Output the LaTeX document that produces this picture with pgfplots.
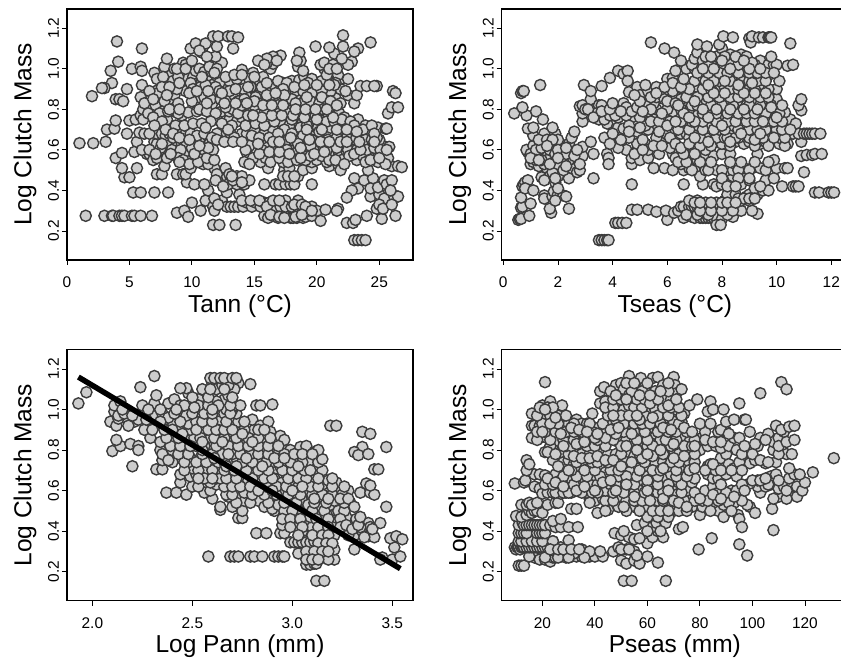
\documentclass[border=0pt]{standalone}
\usepackage{fontspec}
\setmainfont{Liberation Sans}
\usepackage{pgfplots}
\pgfplotsset{compat=1.18}
\definecolor{ptfill}{HTML}{CDCDCD}
\definecolor{ptline}{HTML}{3C3C3C}
\pgfplotsset{panel/.style={
  scale only axis, anchor=south west,
  ymin=0.057, ymax=1.295,
  ytick={0.2,0.4,0.6,0.8,1.0,1.2},
  tick align=outside, major tick length=5bp,
  axis line style={line width=1.3bp,black},
  tick style={line width=0.9bp,black},
  xtick pos=bottom, ytick pos=left,
  /pgf/number format/assume math mode=true,
  tick label style={font=\fontsize{15.5}{17}\selectfont},
  yticklabel style={rotate=90,anchor=south,/pgf/number format/fixed,/pgf/number format/fixed zerofill,/pgf/number format/precision=1,yshift=-0.5bp},
  xticklabel style={yshift=-8bp,/pgf/number format/fixed},
  ylabel={Log Clutch Mass},
  label style={font=\fontsize{24.6}{27}\selectfont},
  ylabel style={at={(axis description cs:0,0.5)},anchor=south,yshift=27bp},
  xlabel style={at={(axis description cs:0.5,0)},anchor=north,yshift=-31bp},
},
pts/.style={only marks,mark=*,mark size=5.6bp,mark options={fill=ptfill,draw=ptline,line width=1.4bp}}
}
\begin{document}
\begin{tikzpicture}
\path[use as bounding box,clip] (0,0) rectangle (841bp,663bp);
% ---------- Tann
\begin{axis}[panel,at={(67bp,403bp)},width=346bp,height=251bp,xmin=0,xmax=27.7,xtick={0,5,10,15,20,25},xlabel={Tann (°C)}]
\addplot[pts] coordinates {
(23.0,.155)(23.3,.155)(23.6,.155)(23.9,.155)(11.7,.23)(12.2,.23)(13.5,.23)(22.4,.24)(22.9,.24)(23.1,.255)
(1.5,.275)(3.0,.275)(3.6,.275)(3.7,.275)(4.2,.275)(4.4,.275)(4.6,.275)(5.2,.275)(5.4,.275)(5.9,.275)(6.8,.275)(8.8,.29)(9.4,.3)(9.7,.27)
(15.8,.275)(16.1,.265)(16.5,.275)(16.9,.265)(17.2,.27)(17.6,.27)(17.9,.265)(18.1,.265)(18.4,.265)(18.6,.27)(18.9,.265)(19.1,.27)(19.6,.275)(20.3,.25)(24.0,.275)(25.2,.26)(26.3,.275)
(10.7,.30)(10.0,.34)(11.1,.35)(11.7,.32)(11.8,.30)(12.4,.35)(12.8,.32)(13.1,.32)(13.4,.32)(13.7,.32)(14.1,.32)(14.4,.34)(14.8,.32)(15.1,.34)(15.5,.32)(15.8,.34)(16.2,.34)(16.7,.32)(17.1,.32)(17.5,.35)(17.5,.32)(18.0,.32)(18.5,.35)(18.5,.32)(18.9,.30)(19.3,.30)(19.6,.32)(20.0,.30)(20.7,.305)(21.7,.31)(21.6,.30)(24.8,.31)(25.6,.33)(25.2,.35)(25.9,.36)(26.4,.37)
(5.3,.39)(5.9,.39)(7.0,.39)(8.1,.39)(11.3,.40)(11.8,.36)(12.8,.39)(13.8,.38)(24.3,.37)(25.0,.38)(25.4,.36)(26.2,.37)(26.5,.37)
(4.6,.465)(5.0,.465)(9.6,.44)(10.2,.43)(11.0,.43)(12.3,.45)(12.8,.47)(12.9,.43)(13.6,.43)(14.2,.43)(14.6,.45)(15.8,.43)(16.7,.43)(17.0,.43)(17.5,.43)(17.9,.43)(18.2,.43)(19.6,.43)(23.0,.46)(23.3,.41)(23.8,.45)(24.5,.46)(24.3,.41)(24.9,.415)(25.4,.45)(25.6,.43)(26.0,.45)(25.9,.40)(22.8,.40)(22.4,.365)
(4.4,.51)(5.6,.51)(7.2,.48)(7.6,.48)(7.8,.52)(8.8,.48)(9.3,.48)(9.5,.48)(9.9,.51)(10.9,.53)(11.8,.51)(12.0,.48)(12.7,.51)(13.0,.48)(13.6,.47)(14.0,.47)(16.1,.51)(17.4,.50)(17.8,.51)(18.5,.47)(18.9,.50)(19.6,.51)(21.0,.52)(21.7,.53)(21.9,.50)(24.1,.50)(26.0,.52)(26.5,.52)(26.8,.515)
(3.9,.56)(4.4,.585)(5.4,.59)(6.4,.58)(6.6,.58)(6.9,.55)(7.6,.58)(8.5,.575)(9.5,.58)(10.0,.55)(10.5,.58)(10.9,.56)(11.3,.53)(14.4,.585)(14.2,.54)(15.5,.54)(16.6,.57)(17.3,.54)(18.0,.57)(18.9,.58)(19.6,.54)(20.0,.55)(20.8,.54)(21.3,.57)(21.8,.58)(22.4,.59)(23.2,.55)(23.7,.57)(24.6,.57)(24.9,.59)(25.3,.57)(25.7,.56)
(1.0,.633)(2.1,.633)(3.1,.64)(5.6,.64)(7.0,.64)(7.2,.63)(8.0,.64)(8.2,.63)(8.8,.63)(9.2,.63)(9.6,.63)(10.2,.64)(10.6,.64)(11.4,.63)(15.0,.64)(16.0,.61)(17.2,.62)(18.1,.63)(18.5,.60)(19.1,.62)(20.0,.60)(20.5,.62)(21.2,.62)(22.1,.62)(22.8,.63)(23.6,.62)(24.2,.63)(24.9,.62)(25.3,.62)(25.8,.615)
(3.2,.70)(3.8,.705)(4.8,.68)(5.8,.685)(6.2,.68)(7.2,.68)(7.6,.68)(7.9,.67)(8.2,.68)(8.8,.68)(9.2,.68)(9.5,.68)(9.9,.68)(10.4,.67)(11.0,.68)(12.0,.68)(12.8,.68)(13.1,.68)(14.0,.68)(14.4,.68)(15.0,.70)(15.8,.68)(16.5,.70)(17.2,.66)(17.7,.65)(18.2,.645)(18.7,.65)(19.3,.68)(19.9,.67)(20.5,.66)(21.0,.68)(22.1,.68)(22.7,.70)(23.5,.67)(24.2,.69)(25.0,.65)
(3.9,.745)(5.0,.745)(5.5,.75)(5.9,.77)(6.1,.75)(7.2,.74)(8.0,.75)(12.0,.75)(13.0,.75)(13.6,.74)(14.0,.76)(14.8,.75)(15.4,.75)(16.2,.74)(17.1,.74)(17.8,.72)(18.4,.745)(18.9,.74)(19.7,.73)(20.5,.745)(21.1,.71)(21.8,.72)(22.4,.73)(23.3,.75)(23.9,.72)(24.9,.71)(25.5,.705)(25.6,.705)
(6.1,.80)(7.1,.82)(7.7,.79)(8.4,.82)(8.6,.79)(9.2,.77)(9.7,.785)(10.4,.79)(10.6,.80)(11.6,.825)(12.4,.79)(13.0,.79)(13.3,.80)(14.3,.80)(14.7,.79)(15.4,.80)(16.2,.80)(16.6,.79)(17.4,.80)(18.0,.81)(18.8,.79)(19.5,.81)(20.2,.79)(20.9,.78)(21.4,.77)(25.7,.78)(26.0,.81)(26.5,.81)
(3.9,.85)(4.2,.85)(4.5,.84)(5.9,.86)(7.5,.86)(8.2,.85)(8.6,.87)(8.9,.83)(10.5,.86)(11.0,.86)(12.9,.86)(13.4,.87)(14.6,.87)(15.8,.85)(17.0,.86)(17.6,.84)(18.5,.86)(19.1,.855)(19.9,.845)(20.6,.85)(21.0,.86)(21.5,.855)(21.9,.83)(22.5,.87)(23.0,.83)(23.2,.87)
(3.6,.93)(3.0,.905)(2.8,.905)(2.0,.865)(4.8,.90)(6.0,.92)(7.9,.945)(9.3,.91)(9.5,.89)(7.1,.89)(7.3,.88)(12.6,.92)(13.3,.91)(13.9,.92)(15.0,.90)(15.3,.87)(16.2,.89)(16.6,.92)(17.0,.89)(17.8,.90)(21.1,.89)(21.9,.90)(23.5,.915)(24.0,.915)(24.8,.915)(24.6,.915)(26.1,.89)(26.3,.88)
(7.0,.98)(7.2,.95)(8.3,.97)(9.6,.96)(10.1,.96)(10.5,.93)(11.3,.95)(12.0,.96)(14.2,.94)(15.7,.96)(17.3,.93)(18.0,.94)(18.6,.945)(19.0,.96)(19.6,.95)(20.4,.94)(21.2,.95)(21.9,.95)(22.5,.95)
(5.2,1.0)(5.9,1.01)(6.0,.99)(3.5,.99)(7.8,1.01)(8.6,1.0)(9.0,.98)(10.3,.99)(10.6,1.0)(11.0,.985)(11.6,.985)(14.0,.995)(14.9,.98)(16.3,1.0)(18.5,1.01)(18.9,.99)(20.6,1.0)(21.3,.985)(21.7,.97)
(4.1,1.035)(9.3,1.03)(9.5,1.02)(11.5,1.03)(12.1,1.03)(12.4,1.03)(16.5,1.025)(18.7,1.04)(20.3,1.02)(20.6,1.03)(21.3,1.02)(22.8,1.035)(22.5,1.02)(16.0,1.03)
(10.8,1.08)(18.6,1.08)(21.4,1.075)(17.1,1.065)(16.5,1.06)(16.0,1.05)(15.3,1.04)(8.0,1.05)(11.9,1.06)
(10.9,1.11)(19.9,1.11)(22.1,1.11)(21.0,1.105)(12.0,1.11)(13.3,1.10)(6.0,1.10)(9.9,1.10)(23.3,1.10)(23.0,1.085)
(4.0,1.135)(24.3,1.13)(10.3,1.125)(11.1,1.125)(11.7,1.16)(12.1,1.16)(12.9,1.16)(13.2,1.16)(13.7,1.155)(22.1,1.165)
(7.7,.96)(8.5,.94)(8.9,.96)(9.9,.93)(10.8,.94)(11.6,.92)(12.2,.93)(13.0,.94)(13.6,.95)(14.6,.95)(15.0,.96)(16.9,.94)(17.6,.93)(19.3,.93)(20.8,.97)(21.5,.93)
(6.6,.89)(7.6,.91)(8.3,.90)(8.8,.90)(10.1,.90)(10.7,.91)(11.1,.92)(11.9,.91)(12.2,.89)(13.0,.89)(14.1,.90)(14.7,.91)(15.6,.91)(17.3,.90)(18.3,.89)(18.9,.89)(19.6,.88)(20.4,.89)(21.4,.92)(22.3,.89)
(6.2,.83)(6.9,.85)(7.8,.84)(10.0,.84)(11.5,.85)(12.3,.85)(13.7,.84)(14.2,.85)(15.1,.86)(15.3,.83)(16.4,.85)(16.9,.83)(18.0,.85)(18.9,.83)(19.5,.84)(20.2,.83)(20.9,.83)
(6.5,.78)(7.4,.78)(8.1,.79)(8.9,.78)(11.2,.79)(11.9,.78)(12.7,.81)(13.7,.78)(14.0,.82)(15.0,.82)(15.8,.78)(16.9,.82)(17.0,.78)(17.7,.78)(18.4,.78)(19.2,.78)(19.9,.77)(20.5,.80)(21.0,.81)(21.8,.78)(22.2,.76)
(6.9,.76)(7.6,.74)(11.5,.74)(12.4,.73)(13.2,.72)(14.3,.72)(15.1,.73)(15.8,.72)(16.6,.74)(17.4,.70)(18.0,.75)(18.7,.71)(19.2,.72)(20.1,.71)(20.8,.74)(21.4,.74)(22.0,.75)(22.7,.74)(23.0,.72)(23.7,.70)(24.4,.72)
(6.6,.68)(8.5,.66)(11.6,.66)(13.4,.66)(14.8,.67)(15.4,.66)(16.2,.66)(16.9,.68)(18.0,.68)(18.9,.67)(19.6,.65)(20.2,.69)(20.9,.65)(21.6,.66)(22.4,.66)(23.1,.65)(23.9,.65)(24.4,.65)(24.8,.66)
(6.0,.60)(6.6,.60)(7.5,.61)(8.4,.60)(9.1,.60)(10.0,.61)(10.9,.61)(11.0,.60)(14.6,.62)(15.6,.60)(16.7,.62)(17.6,.60)(18.5,.63)(19.5,.62)(20.8,.60)(21.6,.61)(22.5,.60)(23.2,.60)(24.0,.60)(24.6,.61)(25.1,.60)
(7.2,.56)(8.0,.56)(8.9,.56)(9.3,.55)(9.8,.53)(10.5,.54)(11.2,.56)(14.9,.56)(15.9,.56)(16.3,.54)(17.0,.56)(17.7,.54)(18.4,.55)(19.1,.55)(19.5,.57)(20.4,.57)(21.0,.55)(22.0,.55)(22.6,.57)(23.9,.54)(24.9,.54)(25.5,.53)
(11.9,.45)(12.5,.42)(13.3,.45)(13.2,.47)(14.0,.44)(17.3,.47)(17.7,.47)(18.2,.47)
(12.1,.33)(14.0,.35)(14.7,.35)(15.4,.35)(16.0,.32)(16.5,.35)(17.0,.35)(18.2,.33)(18.8,.33)(19.1,.32)(19.6,.30)(25.0,.33)(25.3,.31)(26.0,.33)
(16.3,.28)(17.0,.27)(17.4,.265)(18.3,.27)(18.8,.28)
(8.8,1.0)(9.5,1.0)(10.0,1.04)(10.6,1.09)(11.2,1.06)(11.4,1.01)(12.0,1.0)(15.8,1.02)(16.8,1.04)(18.4,1.04)(21.0,1.0)(21.6,1.0)(22.0,1.05)
(11.7,.60)(11.3,.61)(14.3,.60)(12.0,.65)(12.6,.64)(13.3,.64)(14.0,.64)(11.8,.55)(14.6,.53)
(7.0,.72)(7.9,.70)(8.7,.72)(9.4,.72)(10.1,.73)(10.8,.73)(11.1,.71)(12.9,.70)(14.5,.77)(15.6,.76)(16.4,.77)(17.2,.77)(18.1,.77)(19.0,.76)(20.0,.75)(21.3,.76)(19.2,.70)(20.4,.70)(21.6,.70)(22.4,.70)(23.2,.69)(24.6,.68)
(8.2,.91)(9.0,.93)(9.8,.88)(10.4,.89)(11.3,.89)(12.7,.96)(13.4,.97)(14.5,.91)(16.0,.93)(17.4,.87)(18.2,.91)(19.0,.92)(20.0,.92)(21.0,.92)(15.0,.84)(16.0,.87)(16.7,.88)(18.3,.83)(19.2,.86)(20.4,.86)(21.1,.84)
(7.1,.58)(8.3,.58)(9.0,.54)(10.2,.58)(15.4,.58)(16.2,.59)(17.0,.59)(17.8,.58)(18.7,.56)(19.8,.58)(20.6,.59)(21.5,.55)(22.2,.53)(23.0,.58)(23.5,.60)(24.3,.55)(25.0,.56)(25.6,.60)
(7.6,.63)(8.5,.68)(9.0,.66)(9.8,.65)(10.6,.62)(15.3,.63)(16.5,.64)(17.0,.64)(17.9,.66)(18.7,.61)(19.4,.65)(20.3,.64)(21.0,.64)(21.9,.64)(22.4,.64)(23.4,.64)(24.6,.64)
(8.0,.87)(8.2,.80)(9.0,.80)(11.2,.83)(12.6,.83)(13.5,.83)(14.4,.83)(14.9,.77)(15.7,.82)(16.4,.82)(17.3,.82)(18.3,.80)(19.1,.80)(19.9,.80)(20.8,.80)(21.6,.82)
(12.4,.88)(13.5,.90)(14.0,.97)(10.8,.96)(11.8,.98)
};
\end{axis}
% ---------- Tseas
\begin{axis}[panel,at={(501.7bp,403bp)},width=346.3bp,height=251bp,xmin=-0.058,xmax=12.61,xtick={0,2,4,6,8,10,12},xlabel={Tseas (°C)}]
\addplot[pts] coordinates {
(3.5,.155)(3.6,.155)(3.7,.155)(3.8,.155)(3.85,.155)(4.1,.24)(4.2,.24)(4.35,.24)(4.5,.24)
(.55,.255)(.6,.26)(.65,.26)(.95,.275)(6.0,.255)(6.6,.265)(6.9,.27)(7.0,.265)(7.2,.265)(7.3,.265)(7.4,.265)(7.5,.265)(7.6,.265)(7.7,.265)(7.8,.265)(8.0,.26)(7.8,.23)(7.95,.23)(8.4,.27)(9.3,.285)
(4.7,.305)(4.9,.305)(5.3,.305)(5.6,.295)(5.95,.30)(6.25,.29)(6.4,.30)(.65,.315)(.7,.32)(1.75,.29)(1.7,.31)(2.4,.31)(1.0,.335)(8.7,.30)(9.1,.30)
(6.5,.32)(6.6,.32)(6.8,.32)(6.9,.32)(7.0,.32)(7.1,.32)(7.2,.32)(7.3,.32)(7.4,.32)(7.5,.32)(7.6,.32)(7.7,.32)(7.8,.32)(7.9,.32)(8.0,.32)(8.1,.32)(8.2,.32)(8.3,.32)(8.4,.32)
(6.8,.35)(7.1,.35)(7.4,.34)(7.8,.34)(8.1,.35)(8.4,.35)(8.7,.35)(9.0,.35)
(.65,.365)(1.5,.375)(1.5,.36)(1.8,.37)(1.85,.395)(2.0,.38)(2.2,.375)(2.3,.37)(1.9,.35)(8.2,.38)(8.5,.38)(8.9,.37)(9.0,.38)(9.3,.38)(11.4,.39)(11.55,.39)(11.9,.39)(12.0,.39)(12.1,.39)
(.7,.42)(.75,.43)(.8,.44)(.9,.45)(.8,.41)(1.1,.40)(1.4,.465)(1.9,.44)(2.0,.41)(2.4,.46)(3.3,.46)(4.7,.43)(6.6,.43)(7.3,.43)(7.7,.43)(7.8,.42)(8.0,.43)(8.2,.46)(8.4,.47)(8.7,.43)(9.0,.45)(9.2,.41)(9.5,.40)(9.7,.40)(9.6,.45)(9.9,.46)(10.2,.42)(10.6,.42)(10.7,.42)(10.8,.42)
(1.0,.53)(1.1,.54)(1.3,.52)(1.6,.51)(1.9,.5)(2.0,.47)(1.9,.52)(2.5,.51)(2.7,.49)(2.8,.50)(5.5,.51)(5.9,.51)(6.4,.52)(6.6,.50)(6.8,.51)(7.0,.50)(7.2,.47)(7.4,.50)(7.8,.50)(8.2,.50)(8.4,.50)(8.8,.51)(9.1,.51)(9.4,.51)(9.7,.52)(10.0,.51)(10.3,.51)(10.4,.51)(11.0,.49)
(.9,.59)(1.2,.58)(1.4,.57)(1.5,.59)(1.8,.55)(2.1,.56)(2.4,.55)(2.5,.59)(2.9,.57)(3.3,.58)(3.8,.58)(3.85,.56)(3.85,.53)(4.7,.53)(4.7,.56)(5.0,.55)(5.3,.56)(5.7,.58)(6.2,.58)(6.3,.56)(6.5,.53)(6.8,.56)(7.1,.55)(7.4,.58)(7.7,.57)(8.0,.58)(8.3,.58)(8.5,.53)(9.3,.58)(9.9,.55)(10.9,.57)(11.1,.575)(11.3,.575)(11.4,.58)(11.65,.58)
(.85,.6)(1.1,.62)(1.3,.60)(1.5,.63)(1.8,.62)(2.1,.60)(2.2,.62)(2.4,.63)(2.9,.615)(3.2,.64)(4.3,.63)(4.5,.60)(4.9,.60)(5.2,.63)(5.3,.60)(6.1,.61)(6.6,.60)(7.0,.63)(7.4,.60)(7.8,.64)(8.0,.63)(8.5,.64)(8.8,.63)(9.0,.64)(9.4,.63)(9.6,.64)(9.8,.64)(10.1,.63)(10.4,.63)(10.9,.64)
(1.1,.67)(1.5,.68)(1.9,.68)(2.0,.65)(2.5,.66)(2.6,.69)(3.7,.66)(4.2,.67)(4.5,.665)(4.9,.69)(5.3,.70)(5.8,.65)(6.0,.675)(6.5,.68)(6.8,.68)(7.0,.70)(7.4,.66)(7.8,.66)(8.1,.66)(8.4,.68)(8.6,.66)(8.9,.68)(9.1,.67)(9.3,.66)(9.6,.68)(9.8,.68)(10.0,.68)(10.2,.68)(10.4,.68)(10.6,.68)(10.8,.68)(11.0,.68)(11.1,.68)(11.2,.68)(11.3,.68)(11.4,.68)(11.6,.68)
(.9,.705)(1.1,.71)(1.8,.71)(3.8,.73)(4.2,.71)(4.4,.705)(5.2,.72)(6.6,.73)(7.1,.72)(7.5,.71)(7.9,.70)(8.4,.72)(8.7,.75)(8.8,.72)(9.1,.72)(9.4,.71)(9.7,.73)(10.0,.74)(10.3,.75)(10.5,.75)(10.7,.73)
(.4,.78)(.85,.77)(1.2,.79)(1.45,.75)(2.9,.74)(2.9,.78)(3.5,.75)(3.7,.75)(4.2,.76)(4.7,.76)(5.0,.76)(5.3,.78)(5.5,.77)(6.0,.765)(6.2,.79)(7.0,.80)(7.1,.77)(7.6,.78)(8.0,.77)(8.4,.78)(8.7,.77)(9.0,.76)(9.4,.78)(9.8,.79)(10.0,.79)(10.3,.785)(10.9,.795)
(.7,.81)(2.8,.815)(2.9,.82)(3.2,.85)(3.5,.82)(3.6,.82)(4.1,.80)(4.4,.83)(4.5,.81)(5.3,.79)(6.0,.80)(6.3,.86)(6.5,.85)(6.9,.86)(6.8,.80)(7.4,.83)(7.9,.84)(8.2,.84)(8.6,.82)(9.2,.85)(9.6,.84)(9.9,.84)(10.0,.85)(10.8,.82)(10.9,.85)
(.65,.88)(.7,.89)(.75,.89)(1.35,.92)(2.95,.92)(3.2,.89)(3.6,.915)(4.6,.885)(4.9,.91)(5.0,.87)(5.3,.89)(5.6,.91)(5.7,.875)(5.9,.87)(6.2,.89)(7.1,.91)(7.4,.92)(7.7,.90)(7.85,.90)(8.1,.91)(8.4,.885)(8.8,.90)(9.3,.91)(9.5,.91)(10.0,.90)
(3.9,.955)(4.2,.99)(4.4,.975)(4.55,.99)(4.55,.94)(6.0,.95)(6.2,.955)(7.0,.94)(7.3,.96)(7.6,.94)(7.9,.94)(8.1,.96)(8.4,.95)(8.8,.97)(9.2,.96)(9.5,.98)(9.7,.97)(10.1,.94)(6.3,.99)(6.7,1.0)(7.0,1.0)(6.9,1.02)(7.3,1.03)(7.7,1.02)(8.1,1.01)(8.5,1.0)(8.8,1.0)(9.0,1.02)(9.4,1.04)(9.7,1.02)(9.9,1.02)(10.0,1.02)(10.4,1.015)(10.6,1.02)
(5.4,1.13)(5.9,1.10)(6.25,1.08)(6.5,1.04)(7.0,1.05)(7.1,1.08)(7.1,1.12)(7.3,1.04)(7.45,1.11)(7.7,1.05)(7.8,1.06)(8.0,1.10)(7.9,1.12)(8.3,1.07)(8.7,1.07)(8.4,1.04)(9.8,1.06)(8.05,1.16)(8.4,1.155)(9.0,1.15)(9.05,1.13)(9.1,1.16)(9.35,1.155)(9.5,1.155)(9.7,1.155)(9.75,1.155)(9.8,1.155)(10.5,1.125)
(1.0,.58)(1.2,.6)(1.4,.61)(1.6,.55)(1.7,.6)(1.9,.58)(2.0,.6)(2.2,.54)(2.3,.58)(2.6,.57)(1.2,.55)(1.5,.53)(1.7,.47)(1.8,.49)(2.0,.53)(1.5,.45)(1.3,.65)(1.6,.65)(1.8,.65)(1.9,.46)(2.2,.5)
(3.4,.78)(3.9,.77)(4.1,.77)(4.5,.77)(3.0,.8)(4.6,.72)(4.9,.63)(5.1,.65)(5.6,.66)(4.6,.66)(4.2,.61)(5.6,.80)(5.5,.83)(5.2,.82)(5.4,.80)(5.6,.86)(5.9,.85)(6.0,.84)(6.3,.83)(6.5,.80)(6.1,.74)(6.3,.70)(6.7,.68)
(7.2,.62)(7.6,.62)(8.3,.62)(9.2,.62)(9.7,.62)(10.3,.62)(6.8,.66)(7.2,.66)(8.2,.66)(8.5,.66)(9.0,.66)(9.5,.66)(10.1,.66)(10.3,.66)
(6.4,.70)(6.8,.70)(7.3,.70)(7.7,.70)(8.1,.70)(8.6,.70)(9.0,.70)(9.3,.70)(9.6,.70)(10.0,.70)(10.2,.70)(10.5,.70)
(6.5,.74)(6.9,.74)(7.3,.74)(7.8,.74)(8.2,.74)(8.5,.74)(8.9,.74)(9.2,.74)(9.6,.74)(9.9,.74)(10.2,.74)
(6.6,.78)(7.3,.78)(7.8,.78)(8.2,.78)(8.6,.78)(8.9,.78)(9.2,.78)(9.6,.78)(10.1,.78)
(6.4,.82)(6.9,.82)(7.1,.82)(7.6,.82)(8.0,.82)(8.4,.82)(8.9,.82)(9.0,.82)(9.4,.82)(9.8,.82)(10.2,.82)
(6.7,.86)(7.1,.86)(7.5,.86)(7.9,.86)(8.3,.86)(8.6,.86)(9.0,.86)(9.4,.86)(9.7,.86)
(6.8,.90)(7.3,.90)(7.6,.90)(8.3,.90)(8.6,.90)(9.0,.90)(9.2,.90)(9.7,.90)
(7.4,.94)(7.7,.94)(8.3,.94)(8.7,.94)(9.0,.94)(9.3,.94)(9.6,.94)
(7.1,.98)(7.5,.98)(7.9,.98)(8.2,.98)(8.6,.98)(9.0,.98)(9.3,.98)(9.6,.98)(9.9,.98)
(7.5,1.02)(8.3,1.02)(8.6,1.02)(9.2,1.02)(7.4,1.06)(7.6,1.06)(8.1,1.06)(8.5,1.06)(8.9,1.06)(9.1,1.03)
(6.2,.5)(6.9,.5)(7.5,.5)(8.0,.5)(8.6,.5)(9.0,.5)(9.6,.5)(6.4,.54)(6.7,.54)(7.2,.54)(7.6,.54)(8.3,.54)(8.7,.54)(9.2,.54)(9.7,.54)(6.6,.58)(7.0,.58)
(8.0,.46)(8.6,.46)(9.0,.46)(8.2,.42)(8.5,.42)(9.4,.42)(8.6,.36)(8.8,.36)(9.0,.36)(9.2,.36)
(6.7,.28)(7.1,.28)(7.5,.28)(8.2,.28)(7.2,.30)(7.6,.30)(8.0,.30)(8.4,.30)(7.0,.34)(7.2,.34)(7.6,.34)(8.0,.34)(8.2,.34)(8.5,.34)
(3.1,.8)(3.3,.76)(3.6,.79)(3.9,.8)(4.0,.83)(4.3,.79)(4.7,.79)(4.9,.81)(5.1,.79)(5.4,.74)(5.7,.74)(5.0,.71)(4.6,.69)(4.3,.65)(4.0,.68)(3.9,.63)(4.8,.58)(5.1,.6)(5.5,.62)(5.7,.69)(6.0,.72)(5.8,.78)(5.8,.62)
(5.0,.84)(4.8,.87)(5.4,.86)(5.2,.92)(5.6,.88)(5.9,.91)(6.2,.93)(6.5,.91)(6.6,.95)(6.1,.66)(6.3,.63)(6.5,.61)(6.8,.63)(6.3,.74)
(7.0,.66)(7.5,.64)(8.3,.64)(9.2,.65)(9.9,.66)(7.0,.74)(7.5,.76)(8.0,.72)(8.7,.68)(9.4,.68)(9.5,.74)(10.0,.76)(6.8,.76)(7.3,.8)(7.8,.8)(8.3,.8)(8.8,.8)(9.3,.8)(9.8,.81)(7.0,.84)(7.7,.88)(8.1,.88)(8.8,.88)(9.2,.88)(9.6,.88)(7.5,.92)(8.1,.94)(8.6,.92)(9.1,.93)(7.3,1.0)(7.7,1.0)(8.3,1.0)(9.0,1.0)(9.4,1.0)(8.0,1.04)(8.8,1.04)
(1.0,.56)(1.4,.55)(1.7,.53)(2.3,.52)(2.3,.61)(1.3,.55)(1.6,.62)(2.7,.6)(2.8,.53)(2.0,.56)
};
\end{axis}
% ---------- Log Pann
\begin{axis}[panel,at={(67bp,62.3bp)},width=346bp,height=251bp,xmin=1.873,xmax=3.6035,xtick={2,2.5,3,3.5},xticklabel style={/pgf/number format/fixed zerofill,/pgf/number format/precision=1},xlabel={Log Pann (mm)}]
\addplot[pts] coordinates {
(3.12,.155)(3.16,.155)(3.07,.235)(3.09,.235)(3.11,.24)(3.12,.24)
(2.58,.275)(2.69,.275)(2.71,.275)(2.73,.275)(2.79,.275)(2.81,.275)(2.85,.275)(2.91,.275)(2.93,.275)(2.95,.275)(2.96,.275)(3.45,.27)(3.44,.26)(3.5,.26)(3.54,.275)
(3.03,.29)(3.08,.30)(3.10,.28)(3.13,.30)(3.16,.27)(3.2,.30)(3.21,.26)(3.18,.26)
(2.99,.345)(3.01,.345)(3.03,.345)(3.05,.345)(3.07,.345)(3.09,.345)(3.11,.35)(3.15,.33)(3.19,.32)(3.21,.31)(3.31,.31)(3.51,.32)
(2.82,.39)(2.87,.39)(2.94,.39)(2.96,.39)(3.05,.40)(3.12,.40)(3.21,.38)(3.31,.38)(3.35,.40)(3.38,.375)(3.41,.37)(3.49,.365)(3.52,.375)(3.55,.36)
(2.73,.465)(2.75,.465)(2.95,.43)(3.03,.42)(3.07,.45)(3.1,.42)(3.16,.44)(3.2,.42)(3.25,.42)(3.29,.45)(3.38,.44)(3.39,.42)(3.44,.44)(3.40,.41)
(2.64,.505)(2.75,.50)(2.91,.50)(2.97,.48)(3.0,.475)(3.05,.50)(3.09,.47)(3.14,.48)(3.19,.48)(3.22,.50)(3.27,.47)(3.32,.46)
(2.60,.56)(2.68,.57)(2.64,.52)(2.70,.52)(2.76,.55)(2.83,.55)(2.86,.52)(2.90,.51)(2.93,.53)(2.99,.55)(3.05,.55)(3.08,.53)(3.14,.52)(3.19,.53)(3.21,.55)(3.23,.50)(3.29,.54)(3.47,.52)
(2.37,.59)(2.42,.59)(2.44,.64)(2.47,.58)(2.50,.62)(2.56,.59)(2.59,.60)(2.62,.63)(2.67,.58)(2.72,.58)(2.76,.59)(2.80,.62)(2.84,.60)(2.89,.57)(2.95,.58)(3.01,.59)(3.07,.60)(3.13,.59)(3.17,.62)(3.22,.60)(3.28,.60)(3.34,.59)(3.39,.59)(3.41,.58)
(2.44,.68)(2.49,.67)(2.52,.68)(2.59,.64)(2.62,.66)(2.70,.64)(2.75,.66)(2.78,.65)(2.83,.65)(2.88,.63)(2.91,.66)(2.95,.64)(3.00,.65)(3.05,.68)(3.10,.65)(3.15,.63)(3.18,.65)(3.22,.64)(3.37,.635)(3.39,.625)
(2.20,.72)(2.32,.705)(2.35,.705)(2.50,.71)(2.57,.70)(2.63,.71)(2.68,.68)(2.74,.70)(2.80,.68)(2.85,.70)(2.92,.71)(2.97,.68)(3.03,.69)(3.12,.71)(3.13,.70)(3.41,.705)(3.43,.705)(3.15,.70)
(2.35,.75)(2.44,.76)(2.49,.76)(2.48,.74)(2.54,.76)(2.60,.74)(2.68,.75)(2.72,.76)(2.77,.74)(2.84,.75)(2.90,.74)(2.94,.72)(2.97,.73)(3.02,.74)(3.08,.74)(3.13,.76)(3.13,.74)(3.15,.755)
(2.10,.795)(2.14,.82)(2.19,.83)(2.23,.82)(2.23,.80)(2.34,.80)(2.40,.80)(2.45,.80)(2.52,.82)(2.59,.83)(2.65,.80)(2.70,.79)(2.76,.80)(2.81,.80)(2.85,.79)(2.90,.78)(2.95,.83)(2.99,.80)(3.04,.815)(3.07,.82)(3.11,.79)(3.13,.80)(3.47,.815)(3.35,.815)(3.31,.79)(3.33,.775)(3.38,.78)
(2.12,.85)(2.29,.86)(2.34,.84)(2.40,.85)(2.47,.85)(2.51,.86)(2.58,.86)(2.63,.85)(2.69,.87)(2.75,.85)(2.81,.85)(2.86,.86)(2.91,.85)(2.94,.87)(2.96,.85)
(2.41,.92)(2.46,.90)(2.49,.90)(2.55,.89)(2.60,.90)(2.64,.92)(2.68,.89)(2.72,.90)(2.74,.87)(2.78,.88)(2.81,.90)(2.85,.88)(2.87,.91)(2.89,.89)(3.19,.92)(3.22,.92)(3.35,.89)(3.39,.88)
(2.09,.94)(2.12,.92)(2.13,.955)(2.18,.94)(2.21,.94)(2.26,.90)(2.31,.92)(2.36,.95)(2.40,.94)(2.48,.93)(2.52,.94)(2.58,.95)(2.64,.95)(2.70,.94)(2.73,.94)(2.80,.95)(2.84,.92)(2.88,.94)
(2.11,.99)(2.13,.97)(2.16,.98)(2.23,.95)(2.30,.97)(2.35,.98)(2.38,.96)(2.44,.98)(2.47,.97)(2.53,.99)(2.58,.97)(2.62,.99)(2.66,.98)(2.72,.98)
(2.25,1.02)(2.11,1.02)(2.14,1.04)(2.31,1.03)(2.38,1.03)(2.41,1.05)(2.44,1.02)(2.49,1.02)(2.56,1.03)(2.60,1.02)(2.67,1.0)(2.70,1.0)(2.72,1.02)(2.74,1.02)(2.82,1.02)(2.84,1.02)(2.90,1.025)
(1.97,1.085)(1.93,1.03)(2.32,1.07)(2.48,1.08)(2.60,1.08)(2.66,1.05)(2.62,1.04)(2.53,1.05)(2.68,1.07)
(2.47,1.105)(2.44,1.105)(2.24,1.11)(2.55,1.10)(2.60,1.13)(2.62,1.10)(2.65,1.12)(2.73,1.13)(2.71,1.10)(2.68,1.12)
(2.31,1.165)(2.59,1.155)(2.61,1.155)(2.64,1.155)(2.66,1.155)(2.70,1.155)(2.72,1.155)(2.79,1.125)
(2.96,.5)(3.0,.5)(3.1,.5)(3.16,.5)(3.26,.5)(2.72,.54)(2.79,.54)(2.88,.54)(2.96,.54)(3.02,.54)(3.11,.54)(3.17,.54)(3.26,.54)
(2.7,.58)(2.8,.58)(2.86,.58)(2.92,.58)(2.98,.58)(3.04,.58)(3.1,.58)(3.15,.58)(3.2,.58)(3.25,.58)
(2.53,.62)(2.66,.62)(2.7,.62)(2.74,.62)(2.87,.62)(2.92,.62)(2.97,.62)(3.03,.62)(3.09,.62)(3.13,.62)(3.2,.62)(3.26,.62)
(2.56,.66)(2.64,.66)(2.67,.66)(2.72,.66)(2.8,.66)(2.86,.66)(2.9,.66)(2.98,.66)(3.03,.66)(3.07,.66)(3.13,.66)(3.2,.66)
(2.46,.70)(2.53,.70)(2.6,.70)(2.66,.70)(2.71,.70)(2.77,.70)(2.83,.70)(2.88,.70)(2.95,.70)(3.0,.70)(3.06,.70)(3.09,.70)
(2.4,.74)(2.46,.74)(2.52,.74)(2.57,.74)(2.63,.74)(2.66,.74)(2.75,.74)(2.8,.74)(2.87,.74)(2.93,.74)(2.99,.74)(3.05,.74)
(2.43,.78)(2.48,.78)(2.55,.78)(2.6,.78)(2.65,.78)(2.7,.78)(2.74,.78)(2.79,.78)(2.83,.78)(2.88,.78)(2.93,.78)(2.96,.78)(3.01,.78)(3.05,.78)(3.1,.78)
(2.39,.82)(2.44,.82)(2.49,.82)(2.56,.82)(2.62,.82)(2.68,.82)(2.73,.82)(2.78,.82)(2.83,.82)(2.88,.82)(2.93,.82)
(2.37,.86)(2.43,.86)(2.54,.86)(2.61,.86)(2.66,.86)(2.72,.86)(2.78,.86)(2.83,.86)(2.89,.86)
(2.36,.9)(2.43,.9)(2.52,.9)(2.58,.9)(2.62,.9)(2.66,.9)(2.7,.9)(2.76,.9)(2.83,.9)
(2.34,.94)(2.44,.94)(2.55,.94)(2.6,.94)(2.67,.94)(2.76,.94)(2.41,.98)(2.5,.98)(2.56,.98)(2.6,.98)(2.69,.98)
(2.46,1.02)(2.53,1.02)(2.58,1.02)(2.63,1.02)(2.69,1.02)(2.5,1.06)(2.58,1.06)(2.7,1.06)(2.59,1.1)(2.66,1.1)
(2.95,.46)(2.99,.46)(3.04,.46)(3.12,.46)(3.18,.46)(3.24,.46)(2.99,.42)(3.05,.42)(3.13,.42)(3.18,.42)(3.24,.42)(3.34,.42)
(3.03,.38)(3.1,.38)(3.15,.38)(3.18,.38)(3.28,.38)(3.13,.34)(3.17,.34)(3.2,.34)(3.07,.3)(3.11,.3)(3.15,.3)(3.18,.3)(3.07,.26)(3.1,.26)(3.13,.26)
(2.55,.8)(2.61,.76)(2.68,.78)(2.77,.76)(2.85,.72)(2.91,.76)(2.96,.76)(3.03,.72)(2.67,.72)(2.72,.72)(2.79,.62)(2.83,.6)(2.9,.6)(3.0,.6)(3.05,.62)(3.11,.56)(3.18,.56)(3.24,.56)(3.28,.56)(3.31,.52)(3.27,.43)(3.3,.41)(3.36,.37)(3.33,.43)(3.34,.47)(2.45,.88)(2.55,.84)(2.65,.84)(2.75,.88)(2.8,.84)(2.86,.9)(2.4,.9)(2.3,.9)(2.27,.95)(2.28,1.0)(2.34,1.0)(2.42,1.0)(2.51,1.01)(2.6,1.0)(2.15,1.0)(2.2,.97)(2.18,.92)(2.35,.78)(2.38,.75)(2.53,.66)(2.6,.66)
};
\end{axis}
\begin{axis}[scale only axis,anchor=south west,at={(67bp,62.3bp)},width=346bp,height=251bp,xmin=1.873,xmax=3.6035,ymin=0.057,ymax=1.295,hide axis]
\addplot[black,line width=5.5bp,no marks] coordinates {(1.93,1.16)(3.54,.215)};
\end{axis}
% ---------- Pseas
\begin{axis}[panel,at={(501.7bp,62.3bp)},width=346.3bp,height=251bp,xmin=4.5,xmax=136.4,xtick={20,40,60,80,100,120},xlabel={Pseas (mm)}]
\addplot[pts] coordinates {
(51,.155)(54,.155)(67,.155)(11,.23)(12,.23)(13,.23)
(17,.27)(19,.26)(21,.26)(23,.25)(24,.27)(25,.27)(27,.275)(29,.27)(31,.275)(33,.275)(35,.275)(38,.275)(40,.275)(43,.275)(50,.255)(52,.24)(55,.255)(57,.24)(60,.275)(64,.245)(15,.275)
(9.5,.32)(10,.31)(10.5,.32)(11,.32)(11.5,.31)(12,.32)(12.5,.32)(13,.32)(14,.32)(15,.32)(16,.32)(17,.32)(18,.32)(19,.32)(20,.32)(21,.32)(22,.32)(24,.35)(25,.30)(27,.32)(29,.28)(30,.32)(32,.29)(35,.31)(38,.30)(42,.30)(47,.30)(49,.32)(52,.31)(55,.30)(56,.28)(60,.34)(79.5,.31)(84.5,.365)(95,.335)(98,.28)
(11,.35)(12,.35)(14,.35)(16,.35)(18,.35)(20,.35)(24,.35)(30,.355)
(11,.39)(12,.39)(13,.39)(14,.39)(18,.39)(19,.39)(20,.39)(21,.39)(47.5,.39)(50,.38)(53,.37)(55,.36)(57,.365)(62,.37)(64,.40)(66,.37)(72,.41)(73.5,.42)(108,.405)
(10.5,.47)(11,.43)(12.5,.44)(13,.43)(14,.43)(15,.43)(16,.43)(17,.43)(18,.43)(19,.43)(20,.43)(21,.43)(23,.43)(25,.42)(27,.42)(30,.42)(33.5,.42)(24,.45)(27,.46)(56,.43)(59,.44)(62,.42)(63.5,.44)(66.5,.45)(67,.44)
(10,.475)(12,.47)(14,.48)(15,.50)(16,.49)(17,.50)(18,.50)(20,.49)(22,.53)(25,.54)(31,.51)(33,.51)(41,.49)(45,.505)(49,.52)(55,.52)(58,.50)(60,.52)(63,.52)(66,.52)(70,.50)(73,.52)(77,.52)(80,.48)(81,.52)(87,.50)(89,.47)(93,.54)(94.5,.48)(95,.46)(96,.42)(99,.52)(101,.49)(107.5,.51)
(12,.53)(14,.53)(15,.54)(16,.53)(18,.54)(26,.54)(38,.56)(40,.55)(43,.56)(44,.55)(49,.57)(53,.59)(57,.58)(60,.57)(62,.56)(64,.55)(68,.58)(71,.58)(76,.55)(81,.55)(85,.54)(89,.53)(91,.54)(98,.53)(96,.55)(110,.57)(108,.56)(113,.56)(117,.57)
(9.5,.635)(13,.64)(17,.62)(19,.61)(20,.585)(26,.60)(27,.585)(29,.59)(31,.59)(34,.62)(37,.59)(44,.60)(46,.63)(50,.60)(53,.62)(57,.62)(60,.61)(63,.60)(66,.62)(70,.63)(75,.60)(82,.60)(85,.62)(92,.60)(94,.60)(103,.59)(102,.62)(105,.62)(107,.63)(110,.61)(112,.62)(115,.62)(117,.62)(119,.60)(120,.64)
(13.5,.65)(17,.68)(19,.68)(21,.675)(23,.66)(25,.68)(27,.65)(29,.62)(31,.66)(34,.63)(36,.66)(39,.65)(43,.69)(45,.68)(47,.66)(50,.68)(54,.66)(58,.65)(61,.68)(64,.64)(67,.66)(69,.68)(72,.64)(77,.64)(78,.66)(83,.68)(85,.66)(87,.66)(90,.68)(94,.67)(99,.635)(102,.65)(107,.67)(109,.68)(114,.66)(116,.68)(118,.68)(123,.69)
(14,.70)(14,.75)(15,.73)(28,.74)(30,.75)(32,.73)(34,.70)(36,.74)(38,.71)(42,.72)(44,.69)(47,.72)(50,.75)(53,.70)(56,.76)(60,.71)(63,.74)(66,.74)(68,.72)(72,.71)(75,.75)(83,.72)(84,.73)(88,.76)(90,.78)(91,.73)(93,.71)(97,.74)(99,.735)(101,.75)(105,.735)(109,.74)(114,.71)(113,.78)(131,.76)
(21,.79)(24,.75)(27,.79)(33,.79)(36,.81)(39,.79)(42,.78)(45,.78)(48,.78)(52,.78)(55,.77)(58,.79)(61,.80)(64,.81)(67,.78)(70,.80)(73,.80)(76,.80)(80,.80)(83,.82)(86,.82)(88,.81)(91,.82)(94,.80)(99,.79)(102,.82)(108,.80)
(16,.86)(19,.86)(21,.865)(26,.845)(30,.86)(34,.86)(38,.85)(43,.84)(46,.88)(49,.84)(52,.85)(55,.84)(58,.87)(61,.84)(63,.88)(65,.85)(69,.87)(73,.87)(76,.84)(80,.855)(82,.89)(87,.89)(90,.89)(93,.86)(99,.89)(103,.86)(106,.88)(108,.84)(110,.86)(112,.89)
(16,.92)(17,.92)(19,.92)(22,.92)(24,.94)(28,.92)(30,.93)(33,.95)(35,.93)(37,.93)(40,.91)(45,.93)(48,.95)(53,.92)(57,.92)(60,.90)(63,.93)(67,.96)(70,.94)(73,.94)(88,.90)(90,.94)(93,.95)(97,.95)(97.5,.95)(109,.92)(111,.90)(114,.915)(116,.92)
(16,.98)(20,1.02)(21,.96)(23,1.04)(25,1.0)(27,.98)(27.5,1.02)(39,.98)(42,1.03)(44,1.04)(45,.99)(49,1.02)(51,1.0)(53,1.02)(56,1.03)(57,1.0)(60,.985)(63,1.0)(65,1.05)(70,1.03)(71,1.0)(74,.98)(76,1.02)(79,1.05)(83,.99)(84,1.04)(85,1.0)(89,1.0)(95,1.03)
(21,1.135)(42,1.09)(43.5,1.11)(48,1.12)(50,1.13)(51,1.10)(53,1.07)(53,1.165)(55,1.09)(57.5,1.155)(59,1.11)(60.5,1.08)(62,1.155)(64,1.16)(66,1.12)(70,1.16)(70.5,1.12)(71,1.08)(73,1.10)(103,1.08)(111,1.135)(113,1.10)
(21,.27)(26,.27)(30,.27)(36,.27)(23,.31)(26,.31)(28,.31)(31,.31)(34,.31)(50,.31)(53,.31)(51,.40)(60,.40)(65,.40)
(60,.47)(64,.47)(68,.47)(52,.5)(57,.5)(62,.5)(65,.5)(68,.5)(72,.5)(75,.5)(84,.5)(92,.5)
(47,.55)(52,.55)(55,.55)(58,.55)(66,.55)(70,.55)(74,.55)(78,.55)(83,.55)(87,.55)
(22,.59)(24,.59)(25,.59)(28,.59)(30,.59)(35,.59)(39,.59)(41,.59)(47,.59)(51,.59)(55,.59)(59,.59)(64,.59)(66,.59)(73,.59)(78,.59)(87,.59)(90,.59)
(21,.63)(24,.63)(27,.63)(32,.63)(38,.63)(41,.63)(48,.63)(55,.63)(60,.63)(64,.63)(68,.63)(73,.63)(88,.63)(96,.63)(106,.63)
(28,.67)(33,.67)(37,.67)(42,.67)(49,.67)(52,.67)(56,.67)(60,.67)(64,.67)(71,.67)(75,.67)
(31,.7)(36,.7)(40,.7)(46,.7)(49,.7)(57,.7)(62,.7)(65,.7)(71,.7)(76,.7)(86,.7)
(33,.74)(39,.74)(41,.74)(45,.74)(52,.74)(59,.74)(69,.74)(72,.74)(78,.74)
(30,.78)(35,.78)(38,.78)(50,.78)(57,.78)(62,.78)(66,.78)(72,.78)(75,.78)(78,.78)
(23,.82)(29,.82)(31,.82)(37,.82)(40,.82)(44,.82)(50,.82)(55,.82)(60,.82)(62,.82)(69,.82)(74,.82)(77,.82)
(18,.85)(23,.85)(28,.85)(32,.85)(36,.85)(41,.85)(47,.85)(56,.85)(60,.85)(67,.85)(71,.85)(78,.85)
(18,.89)(21,.89)(25,.89)(29,.89)(32,.89)(35,.89)(39,.89)(43,.89)(51,.89)(55,.89)(59,.89)(64,.89)(68,.89)(71,.89)(75,.89)
(20,.93)(26,.93)(32,.93)(38,.93)(43,.93)(51,.93)(55,.93)(58,.93)(61,.93)(65,.93)(72,.93)
(18,.97)(23,.97)(26,.97)(29,.97)(45,.97)(50,.97)(55,.97)(59,.97)(64,.97)(68,.97)(73,.97)
(19,1.01)(22,1.01)(24,1.01)(44,1.01)(47,1.01)(55,1.01)(58,1.01)(66,1.01)(69,1.01)(72,1.01)
(47,1.05)(50,1.05)(56,1.05)(59,1.05)(63,1.05)(67,1.05)(69,1.05)(46,1.09)(54,1.09)(58,1.09)(63,1.09)(68,1.09)(52,1.13)(55,1.13)(60,1.13)(68,1.13)
(22,.66)(25,.64)(28,.62)(33,.6)(36,.62)(40,.6)(43,.64)(46,.65)(48,.6)(52,.63)(60,.65)(26,.72)(30,.70)(32,.77)(35,.76)(38,.76)(41,.77)(44,.75)(47,.75)(50,.72)(54,.74)(58,.76)(62,.77)(66,.71)(70,.76)(74,.77)(78,.71)(82,.7)(85,.73)(88,.7)(92,.7)(95,.74)(96,.78)(100,.78)(103,.75)(106,.74)(110,.78)(115,.78)
(22,.79)(25,.78)(28,.82)(33,.83)(36,.84)(40,.86)(44,.86)(48,.88)(52,.82)(56,.8)(60,.78)(65,.8)(70,.83)(78,.82)(82,.85)(85,.84)(88,.84)(91,.88)(95,.86)(97,.82)(101,.83)(105,.85)(110,.82)(113,.84)(116,.85)(96,.7)(100,.65)(103,.65)(105,.66)(110,.65)(113,.6)
(20,.89)(23,.93)(27,.88)(31,.91)(34,.9)(37,.89)(41,.88)(46,.9)(49,.91)(54,.88)(57,.95)(62,.96)(66,.91)(69,.9)(74,.91)(77,.89)(80,.93)(84,.93)(21,1.0)(25,.96)(47,.97)(53,.97)(56,.97)(61,1.03)(64,1.05)(68,1.02)(48,1.07)(52,1.05)(57,1.07)(61,1.07)(65,1.09)(71,1.05)
(38,.54)(44,.5)(51,.52)(55,.57)(61,.55)(66,.56)(72,.54)(75,.52)(80,.56)(85,.58)(88,.56)(93,.57)(97,.6)(60,.6)(68,.6)
};
\end{axis}
\end{tikzpicture}
\end{document}
